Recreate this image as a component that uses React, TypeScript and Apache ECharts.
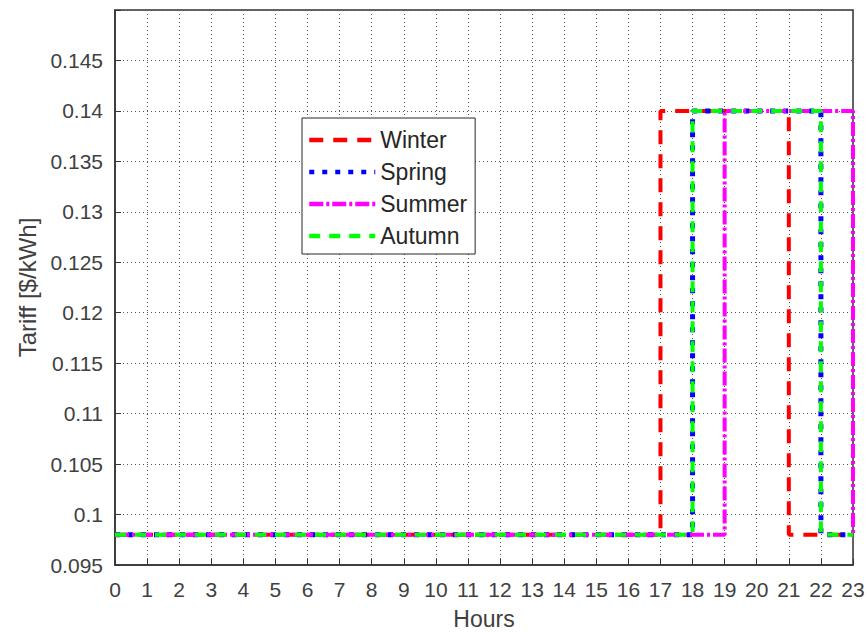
import React, { useEffect, useRef } from "react";
import * as echarts from "echarts";

const hours = [0, 1, 2, 3, 4, 5, 6, 7, 8, 9, 10, 11, 12, 13, 14, 15, 16, 17, 18, 19, 20, 21, 22, 23];
const winter = [0.098, 0.098, 0.098, 0.098, 0.098, 0.098, 0.098, 0.098, 0.098, 0.098, 0.098, 0.098, 0.098, 0.098, 0.098, 0.098, 0.098, 0.14, 0.14, 0.14, 0.14, 0.098, 0.098, 0.098];
const spring = [0.098, 0.098, 0.098, 0.098, 0.098, 0.098, 0.098, 0.098, 0.098, 0.098, 0.098, 0.098, 0.098, 0.098, 0.098, 0.098, 0.098, 0.098, 0.14, 0.14, 0.14, 0.14, 0.098, 0.098];
const summer = [0.098, 0.098, 0.098, 0.098, 0.098, 0.098, 0.098, 0.098, 0.098, 0.098, 0.098, 0.098, 0.098, 0.098, 0.098, 0.098, 0.098, 0.098, 0.098, 0.14, 0.14, 0.14, 0.14, 0.098];
const autumn = [0.098, 0.098, 0.098, 0.098, 0.098, 0.098, 0.098, 0.098, 0.098, 0.098, 0.098, 0.098, 0.098, 0.098, 0.098, 0.098, 0.098, 0.098, 0.14, 0.14, 0.14, 0.14, 0.098, 0.098];
const seriesNames = ["Winter", "Spring", "Summer", "Autumn"];

const FONT = "Liberation Sans, Arial, sans-serif";

export default function App() {
  const ref = useRef<HTMLDivElement>(null);
  useEffect(() => {
    if (!ref.current) return;
    const chart = echarts.init(ref.current, undefined, { renderer: "svg" });
    const pts = (arr: number[]) => hours.map((h, i) => [h, arr[i]]);
    const gridLine = { show: true, lineStyle: { color: "#555", width: 1, type: [1, 3] as any } };
    chart.setOption({
      animation: false,
      backgroundColor: "#fff",
      grid: {
        left: 115,
        right: 14,
        top: 10,
        bottom: 67,
        outerBoundsMode: "none",
        containLabel: false,
        show: true,
        borderColor: "#333",
        borderWidth: 1.5,
        backgroundColor: "#fff",
      },
      legend: {
        orient: "vertical",
        left: 302,
        top: 118,
        data: seriesNames,
        backgroundColor: "#fff",
        borderColor: "#262626",
        borderWidth: 1,
        borderRadius: 0,
        padding: [10, 8, 6, 5],
        itemWidth: 66,
        itemHeight: 14,
        itemGap: 8,
        itemStyle: { opacity: 0 },
        lineStyle: { width: 4.5 },
        textStyle: { fontFamily: FONT, fontSize: 23, color: "#262626", lineHeight: 24, padding: [0, 0, 0, 0] },
      },
      xAxis: {
        type: "value",
        min: 0,
        max: 23,
        interval: 1,
        name: "Hours",
        nameLocation: "middle",
        nameGap: 43,
        nameTextStyle: { fontFamily: FONT, fontSize: 23, lineHeight: 22, color: "#404040" },
        axisLine: { show: true, lineStyle: { color: "#333", width: 1.5 } },
        axisTick: { show: true, inside: true, length: 6, lineStyle: { color: "#333" } },
        axisLabel: { fontFamily: FONT, fontSize: 21, color: "#404040", margin: 14 },
        splitLine: gridLine,
      },
      yAxis: {
        type: "value",
        min: 0.095,
        max: 0.15,
        interval: 0.005,
        name: "Tariff [$/kWh]",
        nameLocation: "middle",
        nameGap: 70,
        nameTextStyle: { fontFamily: FONT, fontSize: 24, color: "#404040" },
        axisLine: { show: true, lineStyle: { color: "#333", width: 1.5 } },
        axisTick: { show: true, inside: true, length: 6, lineStyle: { color: "#333" } },
        axisLabel: {
          fontFamily: FONT,
          fontSize: 21,
          color: "#404040",
          margin: 12,
          formatter: (v: number) => (v > 0.1495 ? "" : String(+v.toFixed(3))),
        },
        splitLine: gridLine,
      },
      series: [
        {
          name: "Winter",
          type: "line",
          step: "end",
          data: pts(winter),
          symbol: "none",
          lineStyle: { color: "#ff0000", width: 4, type: [14, 10] },
          itemStyle: { color: "#ff0000" },
        },
        {
          name: "Spring",
          type: "line",
          step: "end",
          data: pts(spring),
          symbol: "none",
          lineStyle: { color: "#0000ff", width: 5, type: [5, 8] },
          itemStyle: { color: "#0000ff" },
        },
        {
          name: "Summer",
          type: "line",
          step: "end",
          data: pts(summer),
          symbol: "none",
          lineStyle: { color: "#ff00ff", width: 4, type: [14, 3, 3, 3] },
          itemStyle: { color: "#ff00ff" },
        },
        {
          name: "Autumn",
          type: "line",
          step: "end",
          data: pts(autumn),
          symbol: "none",
          lineStyle: { color: "#00ff00", width: 4, type: [11, 9] },
          itemStyle: { color: "#00ff00" },
        },
      ],
    });
    return () => chart.dispose();
  }, []);
  return (
    <div
      ref={ref}
      style={{ position: "fixed", left: 0, top: 0, width: 867, height: 632, background: "#fff" }}
    />
  );
}
